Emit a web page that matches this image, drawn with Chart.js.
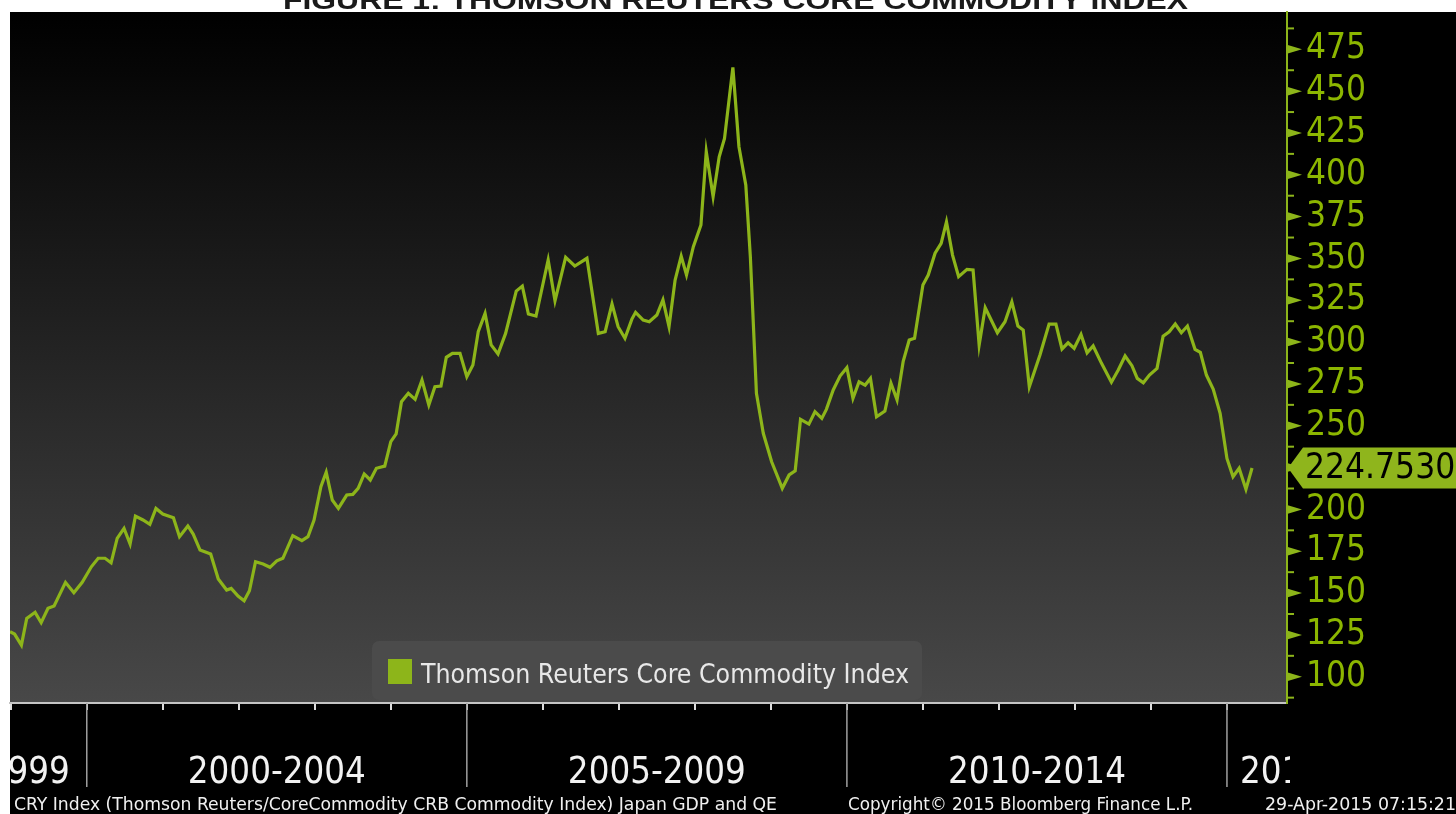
<!DOCTYPE html>
<html>
<head>
<meta charset="utf-8">
<title>Thomson Reuters Core Commodity Index</title>
<script src="https://cdn.jsdelivr.net/npm/chart.js@4.4.1/dist/chart.umd.min.js"></script>
<style>
  html, body { margin: 0; padding: 0; background: #fff; }
  canvas { display: block; }
</style>
</head>
<body>
<canvas id="chart" width="1456" height="814"></canvas>
<script>
const titleText = "FIGURE 1: THOMSON REUTERS CORE COMMODITY INDEX";
const seriesName = "Thomson Reuters Core Commodity Index";
const footerLeft = "CRY Index (Thomson Reuters/CoreCommodity CRB Commodity Index) Japan GDP and QE";
const footerMid = "Copyright\u00a9 2015 Bloomberg Finance L.P.";
const footerRight = "29-Apr-2015 07:15:21";

// dates as decimal years
const dates = [
  1998.99, 1999.05, 1999.14, 1999.21, 1999.32, 1999.40, 1999.49, 1999.57, 1999.72, 1999.83, 1999.94,
  2000.06, 2000.15, 2000.24, 2000.32, 2000.40, 2000.49, 2000.57, 2000.64, 2000.74, 2000.83, 2000.91,
  2001.00, 2001.14, 2001.22, 2001.33, 2001.40, 2001.49, 2001.63, 2001.73, 2001.84, 2001.90, 2001.99,
  2002.07, 2002.14, 2002.22, 2002.32, 2002.41, 2002.50, 2002.58, 2002.71, 2002.83, 2002.91, 2002.99,
  2003.08, 2003.15, 2003.23, 2003.31, 2003.42, 2003.50, 2003.57, 2003.65, 2003.73, 2003.81, 2003.92,
  2004.00, 2004.07, 2004.14, 2004.23, 2004.32, 2004.41, 2004.50, 2004.58, 2004.66, 2004.73, 2004.81, 2004.91,
  2005.00, 2005.08, 2005.15, 2005.24, 2005.32, 2005.41, 2005.51, 2005.65, 2005.73, 2005.81, 2005.91,
  2006.07, 2006.16, 2006.30, 2006.42, 2006.58, 2006.73, 2006.82, 2006.91, 2006.99,
  2007.08, 2007.17, 2007.22, 2007.32, 2007.40, 2007.50, 2007.58, 2007.66, 2007.74, 2007.82, 2007.89, 2007.98,
  2008.08, 2008.15, 2008.24, 2008.32, 2008.39, 2008.50, 2008.58, 2008.67, 2008.73, 2008.81, 2008.90,
  2009.01, 2009.15, 2009.24, 2009.32, 2009.39, 2009.50, 2009.58, 2009.67, 2009.73, 2009.82, 2009.91,
  2010.00, 2010.08, 2010.16, 2010.24, 2010.31, 2010.39, 2010.50, 2010.58, 2010.66, 2010.74, 2010.82, 2010.89,
  2011.00, 2011.07, 2011.16, 2011.24, 2011.31, 2011.39, 2011.47, 2011.58, 2011.66, 2011.74, 2011.82, 2011.98,
  2012.08, 2012.17, 2012.25, 2012.32, 2012.40, 2012.54, 2012.66, 2012.75, 2012.83, 2012.91, 2012.99,
  2013.08, 2013.16, 2013.24, 2013.35, 2013.48, 2013.57, 2013.66, 2013.75, 2013.82, 2013.90, 2013.98,
  2014.08, 2014.16, 2014.24, 2014.32, 2014.40, 2014.48, 2014.58, 2014.65, 2014.73, 2014.82, 2014.91,
  2015.00, 2015.08, 2015.16, 2015.25, 2015.33
];
const values = [
  126.9, 125.5, 118.9, 134.9, 138.5, 132.3, 140.9, 142.3, 156.4, 150.2, 156.4,
  165.7, 170.8, 170.8, 168.1, 182.7, 188.7, 179.3, 196.0, 193.7, 191.1, 200.6,
  197.2, 195.0, 183.7, 190.1, 185.3, 175.7, 173.3, 158.4, 151.8, 152.8, 148.2,
  145.4, 151.4, 168.7, 167.4, 165.4, 169.3, 170.8, 184.3, 181.3, 183.7, 193.7,
  213.6, 222.2, 205.6, 200.6, 208.6, 209.0, 212.6, 221.2, 217.6, 224.6, 225.9,
  240.5, 245.1, 264.4, 269.4, 265.8, 277.3, 262.4, 273.3, 273.7, 290.9, 293.3, 293.3,
  279.3, 286.3, 306.2, 317.2, 298.3, 292.9, 305.2, 330.5, 333.5, 316.8, 315.6,
  349.1, 324.7, 350.7, 345.5, 350.1, 305.2, 306.2, 322.8, 309.2,
  302.3, 313.6, 317.8, 313.2, 312.2, 316.2, 325.2, 309.2, 337.1, 351.4, 340.1, 357.0,
  370.0, 413.8, 386.9, 410.8, 421.8, 464.2, 416.8, 393.9, 351.0, 269.4, 245.5,
  228.5, 212.6, 220.6, 223.1, 253.8, 251.0, 258.4, 254.4, 259.8, 271.4, 279.7,
  284.7, 266.4, 276.3, 274.3, 278.3, 255.4, 258.8, 275.4, 265.4, 288.3, 301.2, 302.3,
  334.1, 340.1, 353.1, 359.0, 371.9, 352.0, 339.1, 343.5, 343.1, 298.3, 320.5, 305.6,
  312.2, 324.1, 309.6, 307.2, 273.3, 292.3, 310.8, 310.8, 295.9, 299.6, 296.3,
  304.6, 293.6, 297.7, 287.3, 276.0, 283.3, 291.7, 285.9, 278.3, 275.7, 280.3,
  284.3, 303.6, 306.2, 310.8, 305.6, 309.6, 295.7, 293.9, 280.3, 271.8, 257.4,
  230.5, 219.5, 224.6, 212.0, 224.753
];

const yTicks = [100, 125, 150, 175, 200, 225, 250, 275, 300, 325, 350, 375, 400, 425, 450, 475];
const yearTicks = [1999, 2000, 2001, 2002, 2003, 2004, 2005, 2006, 2007, 2008, 2009, 2010, 2011, 2012, 2013, 2014, 2015];
const periodStarts = [1995, 2000, 2005, 2010, 2015];
const periodLabels = ["1995-1999", "2000-2004", "2005-2009", "2010-2014", "2015-2019"];

const W = 1456, H = 814;
const GREEN = "#8db51a";
const LABEL_GREEN = "#8cb600";
const COND = "'DejaVu Sans Condensed', 'Liberation Sans Narrow', sans-serif";

// draw text squeezed/stretched to a target width
function drawFitted(c, text, x, y, width, font, color, align) {
  c.save();
  c.font = font;
  c.fillStyle = color;
  c.textAlign = "left";
  c.textBaseline = "alphabetic";
  const w = c.measureText(text).width;
  let x0 = x;
  if (align === "center") x0 = x - width / 2;
  if (align === "right") x0 = x - width;
  c.translate(x0, y);
  c.scale(width / w, 1);
  c.fillText(text, 0, 0);
  c.restore();
}

const bloomberg = {
  id: "bloomberg",
  beforeDraw(chart) {
    const c = chart.ctx, a = chart.chartArea;
    c.save();
    c.fillStyle = "#fff";
    c.fillRect(0, 0, W, H);
    drawFitted(c, titleText, 283, 9, 905, "bold 26px 'Liberation Sans', Arial, sans-serif", "#1a1a1a", "left");
    c.fillStyle = "#000";
    c.fillRect(a.left, a.top, W - a.left, H - a.top);
    const g = c.createLinearGradient(0, a.top, 0, a.bottom);
    g.addColorStop(0, "#000000");
    g.addColorStop(1, "#484848");
    c.fillStyle = g;
    c.fillRect(a.left, a.top, a.right - a.left, a.bottom - a.top);
    c.restore();
  },
  afterDraw(chart) {
    const c = chart.ctx, a = chart.chartArea;
    const ys = chart.scales.y, xs = chart.scales.x;
    c.save();

    // y axis: arrow marks on major ticks, short marks halfway
    c.fillStyle = GREEN;
    c.strokeStyle = GREEN;
    c.lineWidth = 2;
    yTicks.forEach(v => {
      const py = ys.getPixelForValue(v);
      c.beginPath();
      c.moveTo(a.right, py - 4.5);
      c.lineTo(a.right + 15, py);
      c.lineTo(a.right, py + 4.5);
      c.closePath();
      c.fill();
    });
    for (let v = yTicks[0] - 12.5; v <= ys.max; v += 25) {
      if (v < ys.min) continue;
      const py = ys.getPixelForValue(v);
      c.beginPath();
      c.moveTo(a.right, py);
      c.lineTo(a.right + 7, py);
      c.stroke();
    }

    // x axis: period separators and labels
    c.strokeStyle = "#a0a0a0";
    c.lineWidth = 1.5;
    periodStarts.forEach(yr => {
      const px = xs.getPixelForValue(yr);
      if (px < a.left || px > a.right) return;
      c.beginPath();
      c.moveTo(px, a.bottom);
      c.lineTo(px, 787);
      c.stroke();
    });
    c.save();
    c.beginPath();
    c.rect(a.left, a.bottom, a.right + 3 - a.left, 90);
    c.clip();
    periodLabels.forEach((lab, i) => {
      const s = xs.getPixelForValue(periodStarts[i]);
      const e = xs.getPixelForValue(periodStarts[i] + 5);
      const font = "37px " + COND;
      if (s >= a.left && e <= a.right) {
        drawFitted(c, lab, (s + e) / 2, 783, 178, font, "#f2f2f2", "center");
      } else if (s < a.left && e > a.left) {
        drawFitted(c, lab, e - 17, 783, 178, font, "#f2f2f2", "right");
      } else if (s < a.right) {
        drawFitted(c, lab, s + 13, 783, 178, font, "#f2f2f2", "left");
      }
    });
    c.restore();

    // legend box
    c.fillStyle = "#4b4b4b";
    c.beginPath();
    c.roundRect(372, 641, 550, 59, 7);
    c.fill();
    c.fillStyle = GREEN;
    c.fillRect(388, 659, 24, 25);
    drawFitted(c, chart.data.datasets[0].label, 421, 683, 488, "27px " + COND, "#e8e8e8", "left");

    // last value tag
    const last = values[values.length - 1];
    const ty = ys.getPixelForValue(last);
    c.fillStyle = "#8fb51c";
    c.beginPath();
    c.moveTo(a.right + 1, ty);
    c.lineTo(a.right + 16, ty - 20.5);
    c.lineTo(W, ty - 20.5);
    c.lineTo(W, ty + 20.5);
    c.lineTo(a.right + 16, ty + 20.5);
    c.closePath();
    c.fill();
    c.fillStyle = "#000";
    c.font = "35px " + COND;
    c.textAlign = "left";
    c.textBaseline = "middle";
    c.fillText(last.toFixed(4), 1305, ty + 1);

    // footer
    const ff = "18px " + COND;
    drawFitted(c, footerLeft, 14, 810, 763, ff, "#f0f0f0", "left");
    drawFitted(c, footerMid, 848, 810, 345, ff, "#f0f0f0", "left");
    drawFitted(c, footerRight, 1265, 810, 191, ff, "#f0f0f0", "left");
    c.restore();
  }
};

new Chart(document.getElementById("chart"), {
  type: "line",
  data: {
    datasets: [{
      label: seriesName,
      data: dates.map((d, i) => ({ x: d, y: values[i] })),
      borderColor: GREEN,
      borderWidth: 3.2,
      pointRadius: 0,
      tension: 0,
      fill: false
    }]
  },
  options: {
    responsive: false,
    animation: false,
    layout: { padding: { top: 12, left: 10, right: 0, bottom: 0 } },
    plugins: {
      legend: { display: false },
      tooltip: { enabled: false }
    },
    scales: {
      x: {
        type: "linear",
        min: 1998.99,
        max: 2015.79,
        afterBuildTicks: s => { s.ticks = yearTicks.map(v => ({ value: v })); },
        afterFit: s => { s.height = 111; s.paddingLeft = 0; s.paddingRight = 0; },
        ticks: { display: false },
        grid: { display: true, drawOnChartArea: false, drawTicks: true, tickLength: 7, color: "#dcdcdc", lineWidth: 2 },
        border: { display: true, color: "#c4c4c4", width: 2 }
      },
      y: {
        position: "right",
        min: 84.3,
        max: 497.3,
        afterBuildTicks: s => { s.ticks = yTicks.filter(v => v !== 225).map(v => ({ value: v })); },
        afterFit: s => { s.width = 169; s.paddingTop = 0; s.paddingBottom = 0; },
        ticks: { color: LABEL_GREEN, padding: 19, font: { family: COND, size: 35 } },
        grid: { display: false, drawTicks: false },
        border: { display: true, color: GREEN, width: 2 }
      }
    }
  },
  plugins: [bloomberg]
});
</script>
</body>
</html>
